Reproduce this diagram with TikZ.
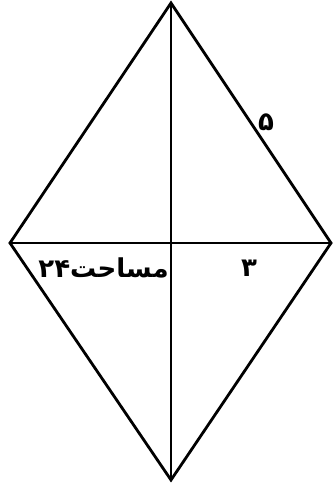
\documentclass[tikz,border=0pt]{standalone}
\usepackage{fontspec}
\newfontfamily\arabicfont[Script=Arabic]{DejaVu Sans}
\TeXXeTstate=1
\begin{document}
\begin{tikzpicture}[x=1pt,y=1pt,
  edge/.style={line width=2.8pt,line cap=round,line join=miter},
  lbl/.style={font=\arabicfont\fontsize{26}{30}\selectfont\bfseries,inner sep=0pt}]
\useasboundingbox (0,0) rectangle (332,484);
\coordinate (T) at (171,481);
\coordinate (B) at (171,4);
\coordinate (L) at (10,241);
\coordinate (R) at (331,241);
\coordinate (O) at (171,241);
\draw[edge] (T) -- (R) -- (B) -- (L) -- cycle;
\draw[edge] (T) -- (B);
\draw[edge] (L) -- (R);
\node[lbl,anchor=east] (area) at (169,216) {\beginR مساحت\beginL ۲۴\endL\endR};
\node[lbl] (three) at (249,216) {\beginR ۳\endR};
\node[lbl] (five) at (266,362) {\beginR ۵\endR};
\end{tikzpicture}
\end{document}
